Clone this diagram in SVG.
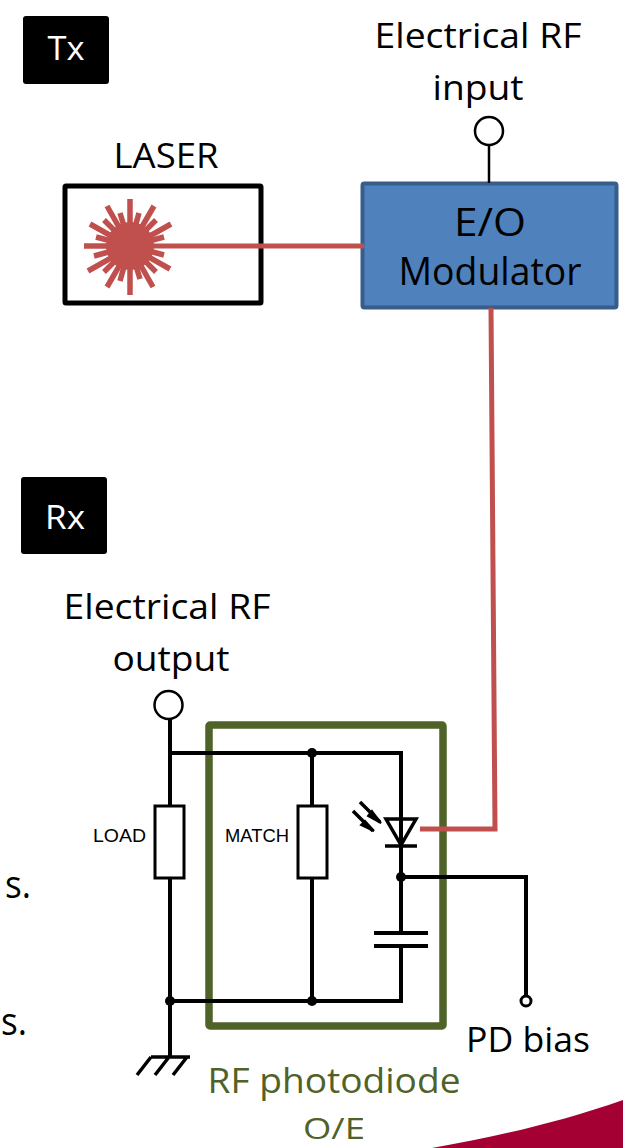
<svg xmlns="http://www.w3.org/2000/svg" width="623" height="1148" viewBox="0 0 623 1148">
<style>
text{font-family:"Open Sans","Noto Sans",sans-serif;fill:#000;text-anchor:middle;font-size:35px}
.g{fill:#4f6228}
.s{font-family:"Liberation Sans",sans-serif;font-size:18px}
.w{fill:none;stroke:#000;stroke-width:4}
.r{fill:none;stroke:#c0504d;stroke-width:5}
.ray{stroke:#c0504d;stroke-width:5.500}
.dot{fill:#000}
</style>
<path d="M432 1148C500 1136 560 1122 623 1100V1148z" fill="#a50034"/>
<text x="18" y="898" style="font-size:38px" textLength="26" lengthAdjust="spacingAndGlyphs">s.</text>
<text x="14" y="1035" style="font-size:38px" textLength="26" lengthAdjust="spacingAndGlyphs">s.</text>
<g id="tx"><rect x="23" y="16" width="86" height="68" rx="3" fill="#000"/><text x="66" y="60" style="fill:#fff;font-size:33px" textLength="37" lengthAdjust="spacingAndGlyphs">Tx</text></g>
<g id="rx"><rect x="21" y="477" width="86" height="77" rx="3" fill="#000"/><text x="65" y="529" style="fill:#fff;font-size:33px" textLength="40" lengthAdjust="spacingAndGlyphs">Rx</text></g>
<g id="laser">
<rect x="65" y="186" width="196" height="117" rx="1" fill="#fff" stroke="#000" stroke-width="5"/>
<text x="166" y="168" textLength="105" lengthAdjust="spacingAndGlyphs">LASER</text>
<circle cx="130" cy="246" r="24" fill="#c0504d"/>
<g class="ray">
<path d="M84 246H130M130 199V295"/>
<path d="M107 206L153 287M154 206L107 287M90 224L170 269M171 224L88 271"/>
<path d="M96 237L164 255M164 237L94 256M104 220L156 272M156 220L104 272M120 213L140 279M139 213L120 281"/>
</g>
</g>
<g id="modulator">
<rect x="362.500" y="183.500" width="254" height="124" rx="2" fill="#4f81bd" stroke="#385d8a" stroke-width="4"/>
<text x="490" y="236" style="font-size:38px" textLength="72" lengthAdjust="spacingAndGlyphs">E/O</text>
<text x="490" y="285" style="font-size:38px" textLength="183" lengthAdjust="spacingAndGlyphs">Modulator</text>
</g>
<g id="rf-input">
<circle cx="489" cy="131" r="14" fill="#fff" stroke="#000" stroke-width="2.500"/>
<text x="478" y="48" textLength="207" lengthAdjust="spacingAndGlyphs">Electrical RF</text>
<text x="478" y="100" textLength="91" lengthAdjust="spacingAndGlyphs">input</text>
</g>
<g id="rf-output">
<circle cx="168.500" cy="705" r="14" fill="#fff" stroke="#000" stroke-width="2.500"/>
<text x="167" y="619" textLength="207" lengthAdjust="spacingAndGlyphs">Electrical RF</text>
<text x="171" y="671" textLength="117" lengthAdjust="spacingAndGlyphs">output</text>
</g>
<g id="photodiode-box">
<rect x="209" y="725" width="234" height="301" rx="1" fill="none" stroke="#4f6228" stroke-width="7.500"/>
<text x="334" y="1093" class="g" textLength="253" lengthAdjust="spacingAndGlyphs">RF photodiode</text>
<text x="334" y="1139" class="g" style="font-size:30px" textLength="62" lengthAdjust="spacingAndGlyphs">O/E</text>
</g>
<g id="connectors">
<path class="r" d="M130 246H364M491 308L495 829H420"/>
<path d="M489 145V183" class="w" style="stroke-width:2.500"/>
<path class="w" d="M170 719V806M170 878V1042M170 753H401V932M312 753V806M312 878V1001M401 947V1001H170M401 877H526V995"/>
</g>
<g id="load"><rect x="155" y="806" width="29" height="72" fill="#fff" stroke="#000" stroke-width="3"/><text x="119.500" y="842" class="s" textLength="53" lengthAdjust="spacingAndGlyphs">LOAD</text></g>
<g id="match"><rect x="298" y="806" width="29" height="72" fill="#fff" stroke="#000" stroke-width="3"/><text x="257" y="842" class="s" textLength="64" lengthAdjust="spacingAndGlyphs">MATCH</text></g>
<g id="photodiode">
<path d="M386 819H416L401 845z" fill="none" stroke="#000" stroke-width="3.500"/>
<path d="M385 846H417" stroke="#000" stroke-width="3.500"/>
<path d="M360 802L380 822M353 811L373 831" stroke="#000" stroke-width="3.500" fill="none"/>
<path d="M372 811L381 823L368 816zM365 821L374 831L361 825z" fill="#000" stroke="#000" stroke-width="2"/>
</g>
<g id="capacitor"><path d="M374 933H428M374 946H428" stroke="#000" stroke-width="4"/></g>
<g id="junctions">
<circle class="dot" cx="312" cy="753" r="5"/><circle class="dot" cx="401" cy="877" r="5"/><circle class="dot" cx="170" cy="1001" r="5"/><circle class="dot" cx="312" cy="1001" r="5"/>
</g>
<g id="ground"><path d="M151 1057H190M151 1057L137 1075M169 1057L155 1075M187 1057L173 1075" stroke="#000" stroke-width="3.500" fill="none"/><path d="M170 1040V1057" stroke="#000" stroke-width="4"/></g>
<g id="pd-bias">
<circle cx="526" cy="1001" r="5" fill="#fff" stroke="#000" stroke-width="3"/>
<text x="528" y="1052" textLength="124" lengthAdjust="spacingAndGlyphs">PD bias</text>
</g>
</svg>
